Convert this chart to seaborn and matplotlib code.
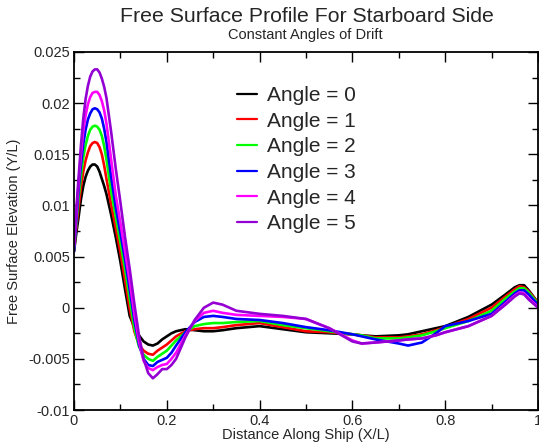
import matplotlib
matplotlib.use("Agg")
import matplotlib.pyplot as plt
import matplotlib.ticker as mticker
import pandas as pd
import seaborn as sns

# distance along ship (X/L), same stations for every angle
x_stations = [0, 0.005, 0.01, 0.015, 0.02, 0.025, 0.03, 0.035, 0.04, 0.045, 0.05, 0.055, 0.06, 0.065, 0.07,
              0.08, 0.09, 0.1, 0.11, 0.12, 0.13, 0.14, 0.15, 0.16, 0.17, 0.18, 0.19, 0.2, 0.21, 0.22,
              0.24, 0.26, 0.28, 0.3, 0.32, 0.35,
              0.4, 0.45, 0.5, 0.55, 0.6, 0.62, 0.65, 0.7, 0.72, 0.75, 0.78, 0.8, 0.85, 0.9,
              0.93, 0.95, 0.96, 0.97, 0.98, 1.0]

# free surface elevation (Y/L)
angle0 = [0.0055, 0.0073, 0.0089, 0.0106, 0.0119, 0.0128, 0.0134, 0.0138, 0.0140, 0.0140, 0.0138, 0.0133, 0.0126, 0.0119, 0.0111,
          0.0091, 0.0069, 0.0045, 0.0018, -0.0008, -0.0019, -0.0027, -0.0033, -0.0036, -0.0037, -0.0035, -0.0031, -0.0028, -0.0025, -0.0023,
          -0.0021, -0.0022, -0.0023, -0.0023, -0.0022, -0.0020,
          -0.0018, -0.0021, -0.0024, -0.0025, -0.0026, -0.0027, -0.0028, -0.0027, -0.0026, -0.0023, -0.0020, -0.0018, -0.0009, 0.0003,
          0.0013, 0.0020, 0.0022, 0.0022, 0.0017, 0.0005]
angle1 = [0.0056, 0.0079, 0.0099, 0.0118, 0.0133, 0.0144, 0.0152, 0.0158, 0.0161, 0.0162, 0.0161, 0.0157, 0.0150, 0.0139, 0.0126,
          0.0101, 0.0078, 0.0054, 0.0027, -0.0001, -0.0023, -0.0036, -0.0042, -0.0045, -0.0046, -0.0042, -0.0039, -0.0036, -0.0032, -0.0028,
          -0.0023, -0.0021, -0.0020, -0.0020, -0.0019, -0.0017,
          -0.0015, -0.0019, -0.0023, -0.0024, -0.0026, -0.0027, -0.0029, -0.0029, -0.0028, -0.0026, -0.0022, -0.0019, -0.0011, 0.0000,
          0.0011, 0.0018, 0.0021, 0.0020, 0.0016, 0.0005]
angle2 = [0.0057, 0.0083, 0.0108, 0.0129, 0.0147, 0.0159, 0.0168, 0.0174, 0.0177, 0.0178, 0.0177, 0.0174, 0.0168, 0.0158, 0.0145,
          0.0114, 0.0089, 0.0064, 0.0038, 0.0009, -0.0020, -0.0038, -0.0046, -0.0050, -0.0052, -0.0048, -0.0045, -0.0042, -0.0037, -0.0032,
          -0.0024, -0.0018, -0.0016, -0.0015, -0.0015, -0.0014,
          -0.0013, -0.0017, -0.0020, -0.0023, -0.0026, -0.0027, -0.0030, -0.0030, -0.0029, -0.0027, -0.0023, -0.0020, -0.0013, -0.0003,
          0.0009, 0.0016, 0.0019, 0.0019, 0.0015, 0.0004]
angle3 = [0.0055, 0.0086, 0.0116, 0.0140, 0.0160, 0.0174, 0.0184, 0.0190, 0.0194, 0.0195, 0.0194, 0.0191, 0.0185, 0.0175, 0.0162,
          0.0128, 0.0098, 0.0073, 0.0047, 0.0018, -0.0012, -0.0036, -0.0050, -0.0056, -0.0057, -0.0053, -0.0051, -0.0049, -0.0044, -0.0037,
          -0.0024, -0.0014, -0.0009, -0.0008, -0.0009, -0.0011,
          -0.0012, -0.0015, -0.0019, -0.0022, -0.0026, -0.0028, -0.0031, -0.0035, -0.0037, -0.0034, -0.0025, -0.0018, -0.0013, -0.0006,
          0.0006, 0.0014, 0.0017, 0.0017, 0.0013, 0.0003]
angle4 = [0.0060, 0.0092, 0.0123, 0.0150, 0.0173, 0.0188, 0.0199, 0.0206, 0.0210, 0.0211, 0.0211, 0.0208, 0.0202, 0.0193, 0.0180,
          0.0145, 0.0110, 0.0083, 0.0055, 0.0026, -0.0006, -0.0033, -0.0052, -0.0059, -0.0061, -0.0058, -0.0056, -0.0055, -0.0050, -0.0044,
          -0.0027, -0.0013, -0.0005, -0.0003, -0.0005, -0.0007,
          -0.0008, -0.0009, -0.0011, -0.0020, -0.0032, -0.0035, -0.0034, -0.0032, -0.0031, -0.0030, -0.0027, -0.0024, -0.0018, -0.0008,
          0.0004, 0.0012, 0.0015, 0.0014, 0.0009, 0.0001]
angle5 = [0.0062, 0.0096, 0.0128, 0.0159, 0.0185, 0.0204, 0.0217, 0.0226, 0.0231, 0.0233, 0.0233, 0.0230, 0.0224, 0.0216, 0.0205,
          0.0172, 0.0136, 0.0103, 0.0069, 0.0038, 0.0004, -0.0027, -0.0050, -0.0064, -0.0069, -0.0065, -0.0060, -0.0060, -0.0056, -0.0050,
          -0.0029, -0.0012, 0.0000, 0.0005, 0.0003, -0.0003,
          -0.0006, -0.0008, -0.0011, -0.0020, -0.0033, -0.0035, -0.0034, -0.0032, -0.0031, -0.0030, -0.0027, -0.0024, -0.0018, -0.0008,
          0.0003, 0.0011, 0.0014, 0.0013, 0.0008, 0.0000]

angle_labels = ["Angle = 0", "Angle = 1", "Angle = 2", "Angle = 3", "Angle = 4", "Angle = 5"]
angle_colors = ["black", "#ff0000", "#00ff00", "#0000ff", "#ff00ff", "#9400d3"]
x_ticks = [0, 0.2, 0.4, 0.6, 0.8, 1.0]
y_ticks = [-0.01, -0.005, 0, 0.005, 0.01, 0.015, 0.02, 0.025]

# long table for seaborn
frames = []
for label, vals in zip(angle_labels, [angle0, angle1, angle2, angle3, angle4, angle5]):
    frames.append(pd.DataFrame({"x": x_stations, "y": vals, "angle": label}))
df = pd.concat(frames, ignore_index=True)

sns.set_style("ticks")
plt.rcParams['font.family'] = ['Liberation Sans', 'DejaVu Sans']

fig = plt.figure(figsize=(5.39, 4.48), dpi=100)
ax = fig.add_axes([74 / 539, 38 / 448, 464 / 539, 358 / 448])

sns.lineplot(data=df, x="x", y="y", hue="angle", palette=angle_colors,
             estimator=None, sort=False, linewidth=1.9, ax=ax,
             solid_joinstyle="round", solid_capstyle="round")

ax.set_xlim(0, 1)
ax.set_ylim(-0.01, 0.025)
ax.set_xticks(x_ticks)
ax.set_yticks(y_ticks)
ax.xaxis.set_minor_locator(mticker.MultipleLocator(0.1))
ax.yaxis.set_minor_locator(mticker.MultipleLocator(0.0025))
ax.xaxis.set_major_formatter(mticker.FuncFormatter(lambda v, p: "%g" % round(v, 4)))
ax.yaxis.set_major_formatter(mticker.FuncFormatter(lambda v, p: "%g" % round(v, 4)))
ax.tick_params(which="both", direction="in", top=True, right=True, labelsize=10.5, color="black")
ax.tick_params(which="major", length=7, width=1, pad=3)
ax.tick_params(which="minor", length=4, width=1)
for s in ax.spines.values():
    s.set_linewidth(1.3)
    s.set_color("black")

ax.set_xlabel("Distance Along Ship (X/L)", fontsize=10.5, labelpad=0)
ax.set_ylabel("Free Surface Elevation (Y/L)", fontsize=10.5, labelpad=5)

leg = ax.legend(loc="upper left", bbox_to_anchor=(0.351, 0.905), frameon=False,
                fontsize=15, handlelength=0.96, handletextpad=0.48,
                labelspacing=0.32, borderpad=0, borderaxespad=0)
for line in leg.get_lines():
    line.set_linewidth(1.6)

fig.text(307 / 539, 1 - 16 / 448, "Free Surface Profile For Starboard Side",
         ha="center", va="center", fontsize=15.3)
fig.text(305 / 539, 1 - 35 / 448, "Constant Angles of Drift",
         ha="center", va="center", fontsize=10.5)

fig.savefig("out.png", dpi=100)
